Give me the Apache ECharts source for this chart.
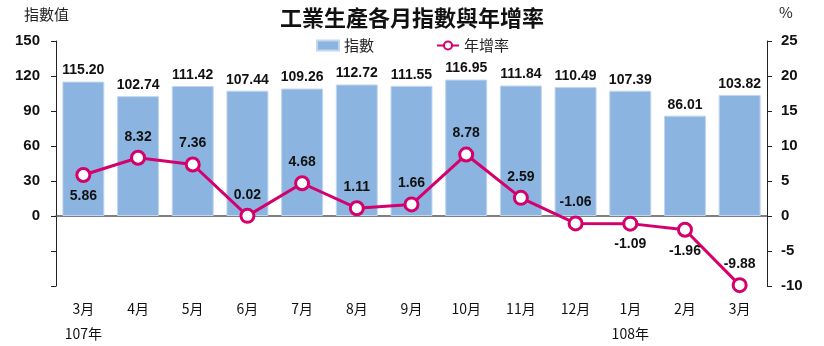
<!DOCTYPE html>
<html>
<head>
<meta charset="utf-8">
<script src="https://cdn.jsdelivr.net/npm/echarts@6/dist/echarts.min.js"></script>
<style>
html,body{margin:0;padding:0;background:#fff;}
#chart{width:824px;height:346px;}
</style>
</head>
<body>
<div id="chart"></div>
<script>
// 工業生產指數 (左軸) 與年增率 (右軸)
const months = ['3月','4月','5月','6月','7月','8月','9月','10月','11月','12月','1月','2月','3月'];
const yearLabels = {0: '107年', 10: '108年'};
const indexValues = [115.20, 102.74, 111.42, 107.44, 109.26, 112.72, 111.55, 116.95, 111.84, 110.49, 107.39, 86.01, 103.82];
const growthValues = [5.86, 8.32, 7.36, 0.02, 4.68, 1.11, 1.66, 8.78, 2.59, -1.06, -1.09, -1.96, -9.88];
const growthLabelPos = ['bottom','top','top','top','top','top','top','top','top','top','bottom','bottom','top'];

const numFont = '"Liberation Sans Narrow","Arial Narrow","Liberation Sans",Arial,sans-serif';
const cjkFont = '"Noto Sans CJK TC","Noto Sans CJK SC",sans-serif';
const lineColor = '#d4006c';

const chart = echarts.init(document.getElementById('chart'));
chart.setOption({
  animation: false,
  title: {
    text: '工業生產各月指數與年增率',
    left: 'center',
    top: 2,
    textStyle: {fontFamily: cjkFont, fontSize: 22, fontWeight: 'bold', color: '#111'}
  },
  legend: {
    left: 311,
    top: 33,
    itemGap: 62,
    itemTextGap: 4,
    itemWidth: 22,
    itemHeight: 10,
    textStyle: {fontFamily: cjkFont, fontSize: 15, color: '#222'},
    data: [
      {name: '指數', icon: 'rect'},
      {name: '年增率'}
    ]
  },
  graphic: [
    {type: 'text', left: 24, top: 7, style: {text: '指數值', font: '15px ' + cjkFont, fill: '#222'}},
    {type: 'text', left: 779, top: 5, style: {text: '%', font: '15px ' + cjkFont, fill: '#222'}}
  ],
  grid: {left: 56, right: 57, top: 41, bottom: 60, outerBoundsMode: 'none', containLabel: false},
  xAxis: {
    type: 'category',
    data: months,
    axisLine: {onZero: true, onZeroAxisIndex: 0, lineStyle: {color: '#555', width: 1.5}},
    axisTick: {show: false},
    axisLabel: {
      interval: 0,
      margin: 10,
      lineHeight: 25,
      fontFamily: cjkFont,
      fontSize: 14,
      color: '#111',
      formatter: (v, i) => yearLabels[i] ? v + '\n' + yearLabels[i] : v
    }
  },
  yAxis: [
    {
      type: 'value', min: -60, max: 150, interval: 30,
      splitLine: {show: false},
      axisLine: {show: true, lineStyle: {color: '#222', width: 1}},
      axisTick: {show: true, length: 5, lineStyle: {color: '#222'}},
      axisLabel: {
        margin: 16,
        fontFamily: numFont, fontSize: 15, fontWeight: 'bold', color: '#111',
        formatter: v => (v < 0 ? '' : String(v))
      }
    },
    {
      type: 'value', min: -10, max: 25, interval: 5,
      splitLine: {show: false},
      axisLine: {show: true, lineStyle: {color: '#222', width: 1}},
      axisTick: {show: true, length: 5, lineStyle: {color: '#222'}},
      axisLabel: {margin: 14, fontFamily: numFont, fontSize: 15, fontWeight: 'bold', color: '#111'}
    }
  ],
  series: [
    {
      name: '指數',
      type: 'bar',
      yAxisIndex: 0,
      barWidth: 42,
      data: indexValues,
      itemStyle: {color: '#8cb4e0', borderColor: '#c2d7ef', borderWidth: 1},
      label: {
        show: true, position: 'top', distance: 4,
        fontFamily: numFont, fontSize: 14, fontWeight: 'bold', color: '#111',
        formatter: p => p.value.toFixed(2)
      }
    },
    {
      name: '年增率',
      type: 'line',
      yAxisIndex: 1,
      data: growthValues.map((v, i) => ({
        value: v,
        label: {position: growthLabelPos[i]}
      })),
      symbol: 'circle',
      symbolSize: 13,
      lineStyle: {color: lineColor, width: 3},
      itemStyle: {color: '#fff', borderColor: lineColor, borderWidth: 3},
      label: {
        show: true, distance: 6,
        fontFamily: numFont, fontSize: 14, fontWeight: 'bold', color: '#111',
        formatter: p => p.value.toFixed(2)
      },
      z: 5
    }
  ]
});
</script>
</body>
</html>
